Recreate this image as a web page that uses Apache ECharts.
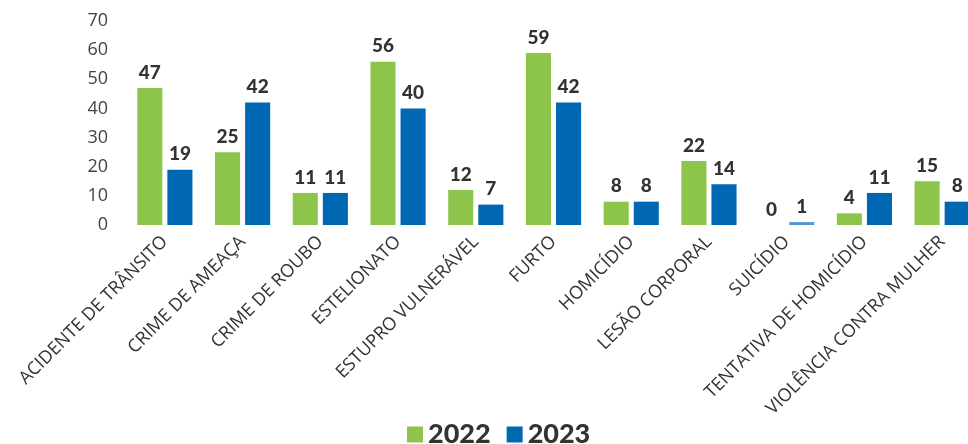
<!DOCTYPE html>
<html><head><meta charset="utf-8">
<script src="https://cdn.jsdelivr.net/npm/echarts@6/dist/echarts.min.js"></script>
<style>html,body{margin:0;padding:0;background:#fff}#c{width:968px;height:444px}</style>
</head><body><div id="c"></div>
<script>
const categories = ['ACIDENTE DE TRÂNSITO','CRIME DE AMEAÇA','CRIME DE ROUBO','ESTELIONATO','ESTUPRO VULNERÁVEL','FURTO','HOMICÍDIO','LESÃO CORPORAL','SUICÍDIO','TENTATIVA DE HOMICÍDIO','VIOLÊNCIA CONTRA MULHER'];
const values2022 = [47,25,11,56,12,59,8,22,0,4,15];
const values2023 = [19,42,11,40,7,42,8,14,1,11,8];
const yTicks = [0,10,20,30,40,50,60,70];

const GREEN = '#8dc54b', BLUE = '#0068b3', LIGHTBLUE = '#5596d6';
const chart = echarts.init(document.getElementById('c'));
const labelStyle = {show:true, position:'top', distance:6, fontFamily:'Lato', fontWeight:900, fontSize:19, color:'#333'};
chart.setOption({
  animation:false,
  grid:{left:126, width:855, top:21, bottom:219, containLabel:false, outerBoundsMode:'none'},
  legend:{bottom:-9, left:402, itemWidth:16, itemHeight:16, itemGap:16,
    icon:'rect',
    textStyle:{fontFamily:'Lato', fontWeight:900, fontSize:27, color:'#333'},
    data:['2022','2023']},
  xAxis:{type:'category', data:categories,
    axisLine:{show:false}, axisTick:{show:false},
    axisLabel:{rotate:45, interval:0, margin:14, fontFamily:'Open Sans', fontSize:18, color:'#333'}},
  yAxis:{type:'value', min:yTicks[0], max:yTicks[yTicks.length-1], interval:10,
    splitLine:{show:false}, axisLine:{show:false}, axisTick:{show:false},
    axisLabel:{margin:18, fontFamily:'Open Sans', fontSize:18, color:'#444'}},
  series:[
    {name:'2022', type:'bar', data:values2022, itemStyle:{color:GREEN}, barGap:'20%', barCategoryGap:'29%', label:labelStyle},
    {name:'2023', type:'bar', itemStyle:{color:BLUE}, label:labelStyle,
      data:values2023.map((v,i)=> categories[i]==='SUICÍDIO' ? {value:v, itemStyle:{color:LIGHTBLUE}} : v)}
  ]
});
</script></body></html>
